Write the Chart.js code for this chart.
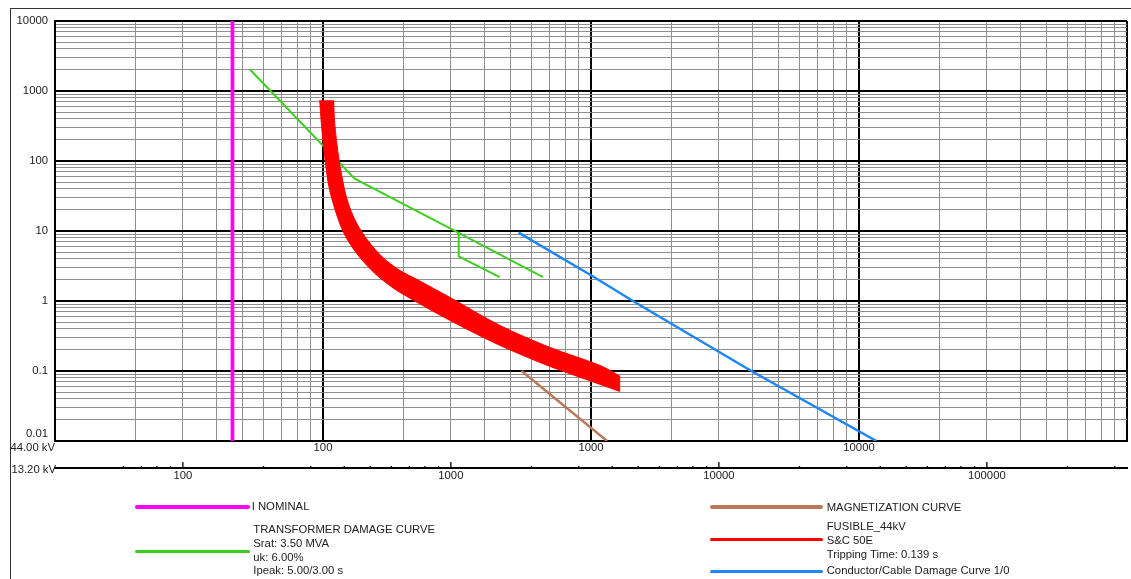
<!DOCTYPE html>
<html><head><meta charset="utf-8">
<script src="https://cdn.jsdelivr.net/npm/chart.js@4.4.1/dist/chart.umd.min.js"></script>
<style>
html,body{margin:0;padding:0;background:#fff;}
#wrap{position:relative;width:1131px;height:579px;overflow:hidden;font-family:"Liberation Sans",Arial,sans-serif;color:#222;}
#frame{position:absolute;left:10px;top:8px;width:1300px;height:700px;border-left:1px solid #333;border-top:1px solid #333;}
canvas{position:absolute;left:0;top:0;}
.t{position:absolute;font-size:11.3px;line-height:13.7px;white-space:nowrap;}
.ln{position:absolute;border-radius:2px;}
</style></head><body>
<div id="wrap">
<div id="frame"></div>
<canvas id="c" width="1131" height="579"></canvas>
<div class="t" style="left:0;width:55px;text-align:right;top:440.7px">44.00 kV</div>
<div class="t" style="left:0;width:56px;text-align:right;top:462.5px">13.20 kV</div>

<div class="ln" style="left:135px;width:115px;top:505px;height:3.5px;background:#ff00ff"></div>
<div class="t" style="left:251.7px;top:500.2px">I NOMINAL</div>
<div class="ln" style="left:135px;width:115px;top:549.5px;height:3px;background:#3ccf1e"></div>
<div class="t" style="left:253.3px;top:523.2px">TRANSFORMER DAMAGE CURVE<br>Srat: 3.50 MVA<br>uk: 6.00%<br>Ipeak: 5.00/3.00 s</div>

<div class="ln" style="left:710px;width:113px;top:505.3px;height:4px;background:#b9795a"></div>
<div class="t" style="left:826.7px;top:500.5px">MAGNETIZATION CURVE</div>
<div class="ln" style="left:710px;width:113px;top:537.8px;height:3px;background:#ff0000"></div>
<div class="t" style="left:826.7px;top:519px;line-height:14px">FUSIBLE_44kV<br>S&amp;C 50E<br>Tripping Time: 0.139 s</div>
<div class="ln" style="left:710px;width:113px;top:569.5px;height:3px;background:#1e86f5"></div>
<div class="t" style="left:826.7px;top:564px">Conductor/Cable Damage Curve 1/0</div>
</div>
<script>
// ---- data (current in A at 44 kV, time in s) ----
const iNominalCurrent = [45.93, 45.93];
const iNominalTime = [0.01, 10000];

const xfmrCurrent = [53.3, 131.3, 320.9, 662.2];
const xfmrTime = [2042, 56.07, 9.42, 2.20];
const xfmrBranchCurrent = [320.9, 320.9, 456.3];
const xfmrBranchTime = [9.42, 4.35, 2.20];

const magCurrent = [551, 1148];
const magTime = [0.1, 0.01];

const fuseMinMeltCurrent = [97.2, 98.6, 101.5, 105.9, 115.4, 123.7, 137.1, 155.9, 172.9, 193.3, 297.0, 456.3, 701.3, 1078, 1280];
const fuseMinMeltTime = [736, 345.6, 113.0, 38.1, 12.88, 7.36, 4.21, 2.487, 1.790, 1.331, 0.530, 0.233, 0.1167, 0.0646, 0.051];
const fuseClearCurrent = [109.6, 110.6, 114.4, 120.5, 125.8, 133.6, 146.8, 167.0, 193.3, 223.7, 297.0, 456.3, 701.3, 1078, 1280];
const fuseClearTime = [736, 345.6, 113.0, 38.1, 21.8, 12.88, 7.36, 4.21, 2.745, 2.042, 1.13, 0.4496, 0.218, 0.1206, 0.085];

const cableCurrent = [537, 1000, 1434, 3967, 11614];
const cableTime = [9.5, 2.33, 1, 0.1, 0.01];

// ---- axes ----
const yTickVals = [0.01, 0.1, 1, 10, 100, 1000, 10000];
const yTickLabels = ['0.01', '0.1', '1', '10', '100', '1000', '10000'];
const xDecades = [10, 100, 1000, 10000, 100000];
const xTickVals = [100, 1000, 10000];
const xTickLabels = ['100', '1000', '10000'];
const x2TickVals = [100, 1000, 10000, 100000];
const x2TickLabels = ['100', '1000', '10000', '100000'];
const x2Ratio = 44.0 / 13.2;

function pts(xs, ys) { return xs.map((x, i) => ({x: x, y: ys[i]})); }
function isMajor(v) { if (!(v > 0)) return false; const l = Math.log10(v); return Math.abs(l - Math.round(l)) < 1e-9; }
function minorTicks(decs, lastMax) {
  const out = [];
  for (let i = 0; i < decs.length - 1; i++) for (let m = 1; m <= 9; m++) out.push(m * decs[i]);
  out.push(decs[decs.length - 1]);
  return out;
}

// fuse band as a closed shape
const fuseBand = pts(fuseMinMeltCurrent, fuseMinMeltTime);
fuseBand.push(Object.assign({}, fuseBand[fuseBand.length - 1]));
const clr = pts(fuseClearCurrent, fuseClearTime).reverse();
fuseBand.push(Object.assign({}, clr[0]));
clr.forEach(p => fuseBand.push(p));

const gridOpts = {
  drawTicks: false,
  color: c => (c.tick && isMajor(c.tick.value)) ? '#000' : '#8f8f8f',
  lineWidth: c => (c.tick && isMajor(c.tick.value)) ? 2 : 1
};
const font = {family: '"Liberation Sans", Arial, sans-serif', size: 11.3};

const upTicks = {
  id: 'upTicks',
  afterDraw(chart) {
    const s = chart.scales.x2, ctx = chart.ctx;
    ctx.save();
    ctx.strokeStyle = '#000';
    ctx.lineWidth = 1.3;
    s.ticks.forEach(t => {
      const px = s.getPixelForValue(t.value);
      const len = isMajor(t.value) ? 7 : 3;
      ctx.beginPath();
      ctx.moveTo(px, s.top + 1);
      ctx.lineTo(px, s.top + 1 - len);
      ctx.stroke();
    });
    ctx.restore();
  }
};

const lineDs = (data, color, w) => ({data, borderColor: color, backgroundColor: color, borderWidth: w, showLine: true, pointRadius: 0, fill: false, tension: 0});

new Chart(document.getElementById('c'), {
  type: 'scatter',
  data: {
    datasets: [
      Object.assign(lineDs(fuseBand, '#ff0000', 1), {fill: 'shape', tension: 0.3}),
      lineDs(pts(iNominalCurrent, iNominalTime), '#ff00ff', 3.7),
      lineDs(pts(xfmrCurrent, xfmrTime), '#3ccf1e', 2),
      lineDs(pts(xfmrBranchCurrent, xfmrBranchTime), '#3ccf1e', 2),
      lineDs(pts(magCurrent, magTime), '#b9795a', 2.5),
      lineDs(pts(cableCurrent, cableTime), '#1e86f5', 2.5)
    ]
  },
  options: {
    responsive: false,
    devicePixelRatio: 1,
    animation: false,
    layout: {padding: {left: 0, top: 21, right: 4, bottom: 81}},
    plugins: {legend: {display: false}, tooltip: {enabled: false}},
    scales: {
      x: {
        type: 'logarithmic', position: 'bottom', min: 10, max: 100000,
        afterBuildTicks: s => { s.ticks = minorTicks(xDecades).map(v => ({value: v})); },
        afterFit: s => { s.height = 27; },
        grid: gridOpts,
        border: {display: true, color: '#000', width: 2},
        ticks: {
          autoSkip: false, maxRotation: 0, minRotation: 0, padding: 0, color: '#222', font,
          callback: v => { const k = xTickVals.indexOf(v); return k >= 0 ? xTickLabels[k] : ''; }
        }
      },
      x2: {
        type: 'logarithmic', position: 'bottom', min: 10 * x2Ratio, max: 100000 * x2Ratio,
        afterBuildTicks: s => {
          const v = [60, 70, 80, 90];
          minorTicks([100, 1000, 10000, 100000, 1000000]).forEach(t => { if (t <= 300000) v.push(t); });
          s.ticks = v.map(x => ({value: x}));
        },
        afterFit: s => { s.height = 30; },
        grid: {display: false, drawOnChartArea: false, drawTicks: false},
        border: {display: true, color: '#000', width: 2},
        ticks: {
          autoSkip: false, maxRotation: 0, minRotation: 0, padding: 1, color: '#222', font,
          callback: v => { const k = x2TickVals.indexOf(v); return k >= 0 ? x2TickLabels[k] : ''; }
        }
      },
      y: {
        type: 'logarithmic', position: 'left', min: 0.01, max: 10000,
        afterBuildTicks: s => { s.ticks = minorTicks(yTickVals).map(v => ({value: v})); },
        afterFit: s => { s.width = 55; },
        grid: gridOpts,
        border: {display: true, color: '#000', width: 2},
        ticks: {
          autoSkip: false, padding: 7, color: '#222', font,
          callback: v => { const k = yTickVals.indexOf(v); if (k < 0) return ''; return k === 0 ? [yTickLabels[k], ''] : yTickLabels[k]; }
        }
      }
    }
  },
  plugins: [upTicks]
});
</script>
</body></html>
